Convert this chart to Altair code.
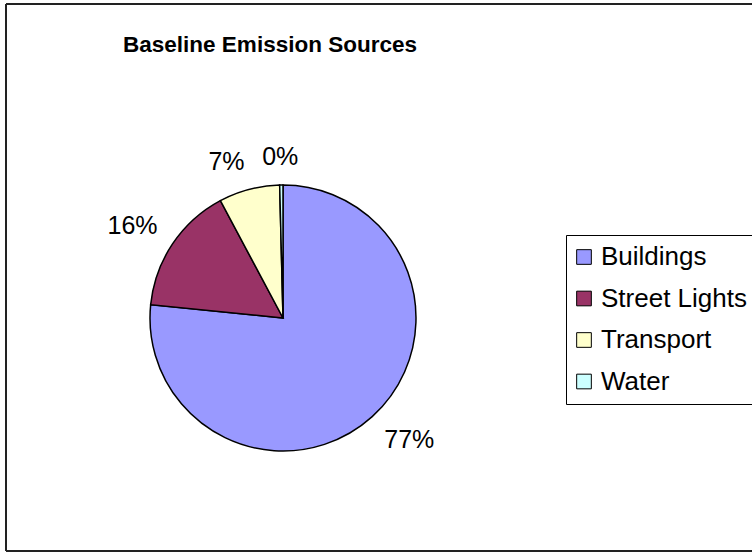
import altair as alt
import pandas as pd

# Emission shares by source (percent of baseline)
sources = ["Buildings", "Street Lights", "Transport", "Water"]
shares = [76.6, 15.6, 7.4, 0.4]
colors = ["#9999FF", "#993366", "#FFFFCC", "#CCFFFF"]
title_text = "Baseline Emission Sources"

FONT = "Liberation Sans, Arial, Helvetica, sans-serif"
CX, CY, R = 283, 318, 133   # pie centre and radius in pixels
GAP = 18                    # distance from rim to the nearest edge of a label

df = pd.DataFrame({"source": sources, "share": shares, "idx": list(range(len(sources)))})
one = pd.DataFrame({"t": [title_text]})

pie = alt.Chart(df).mark_arc(radius=R, stroke="black", strokeWidth=1.5).encode(
    theta=alt.Theta("share:Q", stack=True),
    order=alt.Order("idx:Q"),
    x=alt.value(CX),
    y=alt.value(CY),
    color=alt.Color(
        "source:N",
        sort=sources,
        scale=alt.Scale(domain=sources, range=colors),
        legend=alt.Legend(
            orient="none", legendX=566, legendY=235, title=None, direction="vertical",
            symbolType="square", symbolSize=215, symbolStrokeColor="black",
            symbolStrokeWidth=1, symbolOpacity=1, symbolOffset=-4,
            labelFontSize=26, labelFont=FONT, labelColor="black", labelOffset=4,
            labelExpr="datum.label + '    '",
            labelLimit=400, rowPadding=15.5,
            strokeColor="black", fillColor="white", padding=9,
        ),
    ),
)

# Percentage labels outside the rim at each slice's mid-angle; the label box
# is shifted outward so its nearest side sits just beyond the rim
labels = (
    alt.Chart(df)
    .transform_joinaggregate(total="sum(share)")
    .transform_window(cum="sum(share)", sort=[alt.SortField("idx")], frame=[None, 0])
    .transform_calculate(label="format(datum.share / datum.total, '.0%')")
    .transform_calculate(mid="2 * PI * (datum.cum - datum.share / 2) / datum.total")
    .transform_calculate(hw="(13.9 * (length(datum.label) - 1) + 22.2) / 2")
    .transform_calculate(
        lx=f"{CX} + {R + GAP} * sin(datum.mid) + datum.hw * clamp(4 * sin(datum.mid), -1, 1)"
    )
    .transform_calculate(
        ly=f"{CY} - {R + GAP} * cos(datum.mid) - 10 * clamp(1.5 * cos(datum.mid), -1, 1)"
    )
    .mark_text(fontSize=25, font=FONT, color="black", baseline="middle", align="center")
    .encode(
        x=alt.X("lx:Q", scale=None),
        y=alt.Y("ly:Q", scale=None),
        text="label:N",
    )
)

title = alt.Chart(one).mark_text(
    font=FONT, fontSize=22.5, fontWeight="bold", color="black",
    align="center", baseline="alphabetic",
).encode(x=alt.value(270), y=alt.value(52), text="t:N")

frame_color = "#222222"
frame_left = alt.Chart(one).mark_rule(color=frame_color, strokeWidth=2).encode(
    x=alt.value(6), y=alt.value(4), y2=alt.value(551)
)
frame_top = alt.Chart(one).mark_rule(color=frame_color, strokeWidth=2).encode(
    x=alt.value(6), x2=alt.value(752), y=alt.value(4)
)
frame_bottom = alt.Chart(one).mark_rule(color=frame_color, strokeWidth=2).encode(
    x=alt.value(6), x2=alt.value(752), y=alt.value(551)
)

chart = (
    alt.layer(frame_left, frame_top, frame_bottom, title, pie, labels)
    .properties(width=752, height=552, padding=0, autosize="none")
    .configure_view(stroke=None)
)

chart.save("out.html", embed_options={"renderer": "svg", "actions": False})
